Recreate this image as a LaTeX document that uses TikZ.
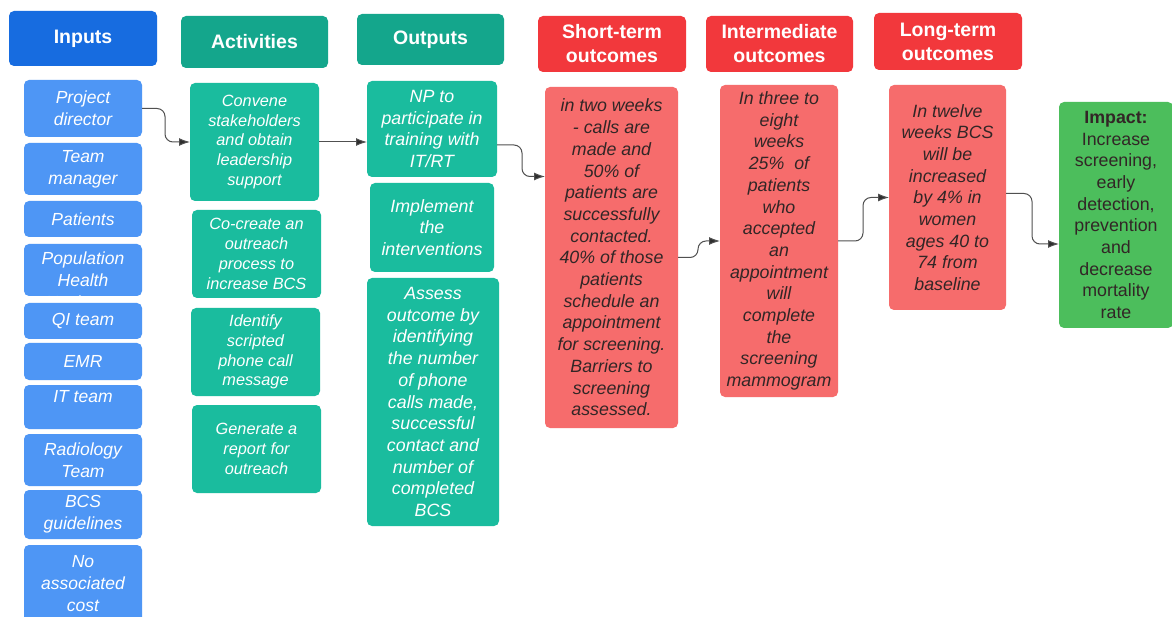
\documentclass[tikz,border=0pt]{standalone}
\usepackage{fontspec}
\setmainfont{Liberation Sans}
\usetikzlibrary{arrows.meta}
\definecolor{hblue}{RGB}{23,108,224}
\definecolor{bblue}{RGB}{78,150,245}
\definecolor{hteal}{RGB}{20,166,140}
\definecolor{bteal}{RGB}{26,188,158}
\definecolor{hred}{RGB}{242,56,60}
\definecolor{bred}{RGB}{246,108,108}
\definecolor{bgreen}{RGB}{76,190,92}
\definecolor{conncol}{RGB}{80,80,80}
\definecolor{tipcol}{RGB}{45,45,45}
\definecolor{darktext}{RGB}{50,38,38}
\newcommand\hfnt{\fontsize{19.5}{24}\selectfont\bfseries}
\newcommand\infnt{\fontsize{17.5}{21.7}\selectfont\itshape}
\newcommand\acfnt{\fontsize{16.3}{19.8}\selectfont\itshape}
\newcommand\outfnt{\fontsize{17.8}{21.7}\selectfont\itshape}
\newcommand\impfnt{\fontsize{17.8}{21.7}\selectfont}
\tikzset{
  box/.style={rounded corners=5pt, align=center, inner sep=1pt, outer sep=0pt, anchor=north west},
  hdr/.style={box, text=white, font=\hfnt},
  inbox/.style={box, fill=bblue, text=white, font=\infnt, minimum width=118pt},
  actbox/.style={box, fill=bteal, text=white, font=\acfnt, minimum width=129pt},
  outbox/.style={box, fill=bteal, text=white, font=\outfnt},
  redbox/.style={box, fill=bred, text=darktext, font=\outfnt},
  conn/.style={draw=conncol, line width=1pt, rounded corners=8pt, -{Latex[length=11pt,width=8pt,fill=tipcol]}}
}
\begin{document}
\begin{tikzpicture}[x=1pt,y=-1pt]
\useasboundingbox[fill=white] (0,0) rectangle (1172,617);
% headers
\node[hdr, fill=hblue, minimum width=148pt, minimum height=55pt] (hin) at (9,11) {Inputs};
\node[hdr, fill=hteal, minimum width=147pt, minimum height=52pt] (hact) at (181,16) {Activities};
\node[hdr, fill=hteal, minimum width=147pt, minimum height=51pt] (hout) at (357,14) {Outputs};
\node[hdr, fill=hred, minimum width=148pt, minimum height=56pt] (hst) at (538,16) {Short-term\\outcomes};
\node[hdr, fill=hred, minimum width=147pt, minimum height=56pt] (hint) at (706,16) {Intermediate\\outcomes};
\node[hdr, fill=hred, minimum width=148pt, minimum height=57pt] (hlt) at (874,13) {Long-term\\outcomes};
% inputs
\node[inbox, minimum height=57pt] (pd) at (24,80) {Project\\director};
\node[inbox, minimum height=52pt] (tm) at (24,143) {Team\\manager};
\node[inbox, minimum height=36pt] (pat) at (24,201) {Patients};
\node[inbox, minimum height=52pt] (ph) at (24,244) {};
\node[box, anchor=north, text=white, font=\infnt] (phtext) at ([yshift=-7pt]ph.north) {Population\\Health\\Navigator};
\node[inbox, minimum height=36pt] (qi) at (24,303) {QI team};
\node[inbox, minimum height=37pt] (emr) at (24,343) {EMR};
\node[inbox, minimum height=44pt] (it) at (24,385) {IT team\\ \mbox{}};
\node[inbox, minimum height=52pt] (rad) at (24,434) {Radiology\\Team};
\node[inbox, minimum height=49pt] (bcs) at (24,490) {BCS\\guidelines};
\node[inbox, minimum height=77pt] (cost) at (24,545) {No\\associated\\cost};
% activities
\node[actbox, minimum height=118pt] (conv) at (190,83) {Convene\\stakeholders\\and obtain\\leadership\\support};
\node[actbox, minimum height=88pt] (cocr) at (192,210) {Co-create an\\outreach\\process to\\increase BCS};
\node[actbox, minimum height=88pt] (iden) at (191,308) {Identify\\scripted\\phone call\\message};
\node[actbox, minimum height=88pt] (gen) at (192,405) {Generate a\\report for\\outreach};
% outputs
\node[outbox, minimum width=130pt, minimum height=96pt] (np) at (367,81) {NP to\\participate in\\training with\\IT/RT};
\node[outbox, minimum width=124pt, minimum height=89pt] (impl) at (370,183) {Implement\\the\\interventions};
\node[outbox, minimum width=132pt, minimum height=248pt] (assess) at (367,278) {Assess\\outcome by\\identifying\\the number\\of phone\\calls made,\\successful\\contact and\\number of\\completed\\BCS};
% outcomes
\node[redbox, minimum width=133pt, minimum height=341pt] (st) at (545,87) {in two weeks\\- calls are\\made and\\50\% of\\patients are\\successfully\\contacted.\\40\% of those\\patients\\schedule an\\appointment\\for screening.\\Barriers to\\screening\\assessed.};
\node[redbox, minimum width=118pt, minimum height=312pt] (int) at (720,85) {In three to\\eight\\weeks\\25\%\ \ of\\patients\\who\\accepted\\an\\appointment\\will\\complete\\the\\screening\\mammogram};
\node[redbox, minimum width=117pt, minimum height=225pt] (lt) at (889,85) {In twelve\\weeks BCS\\will be\\increased\\by 4\% in\\women\\ages 40 to\\74 from\\baseline};
\node[box, fill=bgreen, text=darktext, font=\impfnt, minimum width=114pt, minimum height=226pt] (imp) at (1059,102) {\textbf{Impact:}\\Increase\\screening,\\early\\detection,\\prevention\\and\\decrease\\mortality\\rate};
% connectors
\draw[conn] (pd.east) -- ++(23,0) |- (conv.west);
\draw[conn] (conv.east) -- (conv.east -| np.west);
\draw[conn] ([yshift=-16pt]np.east) -- ++(25,0) |- ([yshift=81pt]st.west);
\draw[conn] (st.east) -- ++(20,0) |- (int.west);
\draw[conn] (int.east) -- ++(25,0) |- (lt.west);
\draw[conn] ([yshift=4pt]lt.east) -- ++(26,0) |- ([yshift=-29pt]imp.west);
\end{tikzpicture}
\end{document}
